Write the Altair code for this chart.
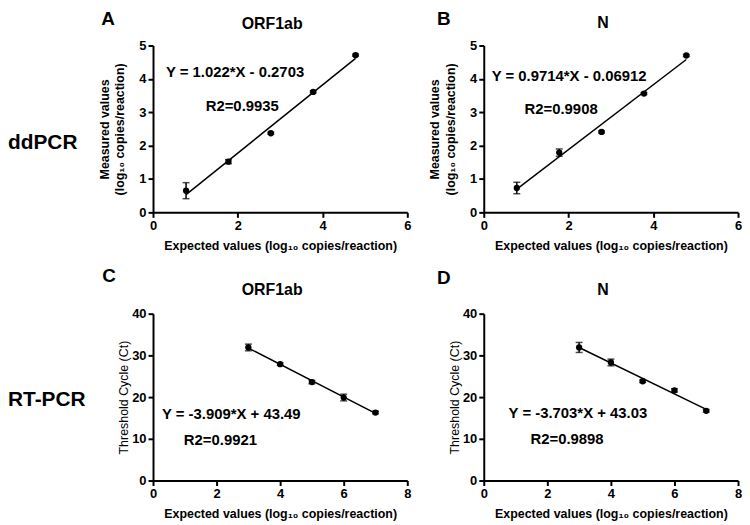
import altair as alt
import pandas as pd

FONT = "Liberation Sans"

# ---- data ----
dd_x = [0.78, 1.78, 2.78, 3.78, 4.78]
orf_dd_y = [0.65, 1.52, 2.37, 3.61, 4.71]
orf_dd_err = [0.24, 0.06, 0.03, 0.03, 0.03]
n_dd_y = [0.73, 1.79, 2.41, 3.56, 4.70]
n_dd_err = [0.17, 0.11, 0.03, 0.03, 0.03]

rt_x = [3, 4, 5, 6, 7]
orf_rt_y = [31.9, 27.9, 23.6, 19.9, 16.3]
orf_rt_err = [0.8, 0.3, 0.4, 0.8, 0.3]
n_rt_y = [31.9, 28.3, 23.8, 21.6, 16.7]
n_rt_err = [1.2, 0.8, 0.3, 0.4, 0.3]

panel_letters = ["A", "B", "C", "D"]
panel_genes = ["ORF1ab", "N", "ORF1ab", "N"]
equations = ["Y = 1.022*X - 0.2703", "Y = 0.9714*X - 0.06912",
             "Y = -3.909*X + 43.49", "Y = -3.703*X + 43.03"]
r2_labels = ["R2=0.9935", "R2=0.9908", "R2=0.9921", "R2=0.9898"]
row_labels = ["ddPCR", "RT-PCR"]
x_title = "Expected values (log\u2081\u2080 copies/reaction)"
dd_y_title = ["Measured values", "(log\u2081\u2080 copies/reaction)"]
rt_y_title = "Threshold Cycle (Ct)"

W, H = 256, 168


def txt(text, x, y, size, weight="bold", align="left", baseline="middle"):
    return alt.Chart(pd.DataFrame({"t": [text]})).mark_text(
        font=FONT, fontSize=size, fontWeight=weight, color="black",
        align=align, baseline=baseline
    ).encode(text="t:N", x=alt.value(x), y=alt.value(y))


def panel(xs, ys, errs, xdom, xticks, ydom, yticks, ytitle, ytitle_weight,
          ytitle_pad, idx, eq_pos, r2_pos, letter_pos, gene_y, row=None):
    df = pd.DataFrame({
        "x": xs, "y": ys,
        "lo": [a - b for a, b in zip(ys, errs)],
        "hi": [a + b for a, b in zip(ys, errs)],
    })
    xaxis = alt.Axis(values=xticks, title=x_title, labelFlush=False,
                     titlePadding=7)
    yaxis = alt.Axis(values=yticks, title=ytitle, labelFlush=False,
                     titleFontWeight=ytitle_weight, titlePadding=ytitle_pad,
                     titleLineHeight=16)
    xs_ = alt.Scale(domain=xdom, nice=False, zero=False)
    ys_ = alt.Scale(domain=ydom, nice=False, zero=False)
    base = alt.Chart(df)
    line = base.transform_regression("x", "y").mark_line(
        color="black", strokeWidth=1.5
    ).encode(x=alt.X("x:Q", scale=xs_, axis=xaxis),
             y=alt.Y("y:Q", scale=ys_, axis=yaxis))
    err = base.mark_errorbar(ticks=True, size=7, thickness=1.5,
                             color="black", orient="vertical").encode(
        x=alt.X("x:Q", scale=xs_, axis=xaxis),
        y=alt.Y("lo:Q", scale=ys_, axis=yaxis),
        y2="hi:Q")
    pts = base.mark_circle(size=40, color="black", opacity=1).encode(
        x=alt.X("x:Q", scale=xs_, axis=xaxis),
        y=alt.Y("y:Q", scale=ys_, axis=yaxis))
    layers = [line, err, pts,
              txt(equations[idx], eq_pos[0], eq_pos[1], 15),
              txt(r2_labels[idx], r2_pos[0], r2_pos[1], 15),
              txt(panel_letters[idx], letter_pos[0], letter_pos[1], 19,
                  baseline="alphabetic"),
              txt(panel_genes[idx], W / 2 - 8, gene_y, 16,
                  align="center", baseline="alphabetic")]
    if row is not None:
        layers.append(txt(row[0], row[1], row[2], 21, baseline="alphabetic"))
    return alt.layer(*layers).properties(width=W, height=H)


pA = panel(dd_x, orf_dd_y, orf_dd_err, [0, 6], [0, 2, 4, 6], [0, 5],
           [0, 1, 2, 3, 4, 5], dd_y_title, "bold", 12, 0,
           (13, 27), (53, 61), (-52, -21), -17, row=(row_labels[0], -146, 104))
pB = panel(dd_x, n_dd_y, n_dd_err, [0, 6], [0, 2, 4, 6], [0, 5],
           [0, 1, 2, 3, 4, 5], dd_y_title, "bold", 12, 1,
           (8, 31), (41, 64), (-47, -21), -18)
pC = panel(rt_x, orf_rt_y, orf_rt_err, [0, 8], [0, 2, 4, 6, 8], [0, 40],
           [0, 10, 20, 30, 40], rt_y_title, "normal", 1, 2,
           (9, 101), (31, 127), (-51, -32), -19, row=(row_labels[1], -146, 93))
pD = panel(rt_x, n_rt_y, n_rt_err, [0, 8], [0, 2, 4, 6, 8], [0, 40],
           [0, 10, 20, 30, 40], rt_y_title, "normal", 1, 3,
           (25, 100), (47, 126), (-47, -30), -19)

chart = alt.concat(pA, pB, pC, pD, columns=2,
                   spacing={"row": 102, "column": 77},
                   bounds="flush").properties(
    padding={"left": 0, "top": 0, "right": 0, "bottom": 0}
).configure_view(stroke=None).configure_axis(
    domainColor="black", domainWidth=2, tickColor="black", tickWidth=2,
    tickSize=5, grid=False, labelFont=FONT, labelFontSize=13,
    labelFontWeight="bold", labelColor="black", labelPadding=2,
    titleFont=FONT, titleColor="black", titleFontSize=12.5,
    titleFontWeight="bold"
)

chart.save("out.html", embed_options={"renderer": "svg", "actions": False})
